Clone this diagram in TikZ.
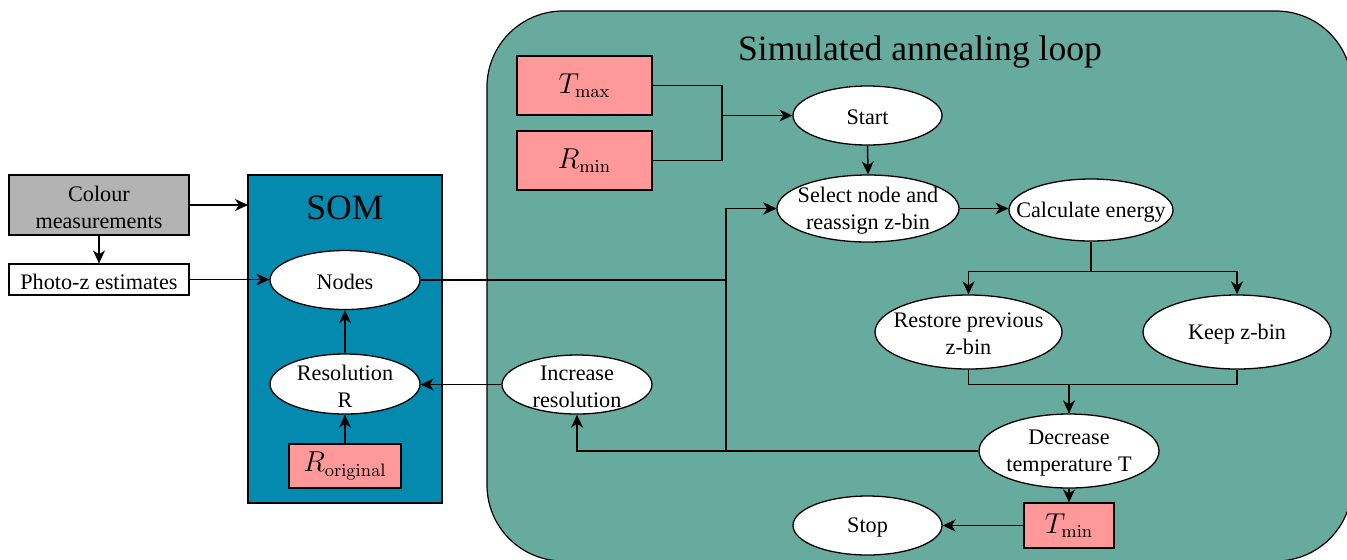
\documentclass[tikz,border=0pt]{standalone}
\usepackage[no-math]{fontspec}
\setmainfont{Liberation Serif}
\usetikzlibrary{shapes.geometric,arrows.meta}
\definecolor{loopfill}{HTML}{67AB9F}
\definecolor{somfill}{RGB}{4,138,174}
\definecolor{paramfill}{HTML}{FF9999}
\definecolor{inputfill}{HTML}{B3B3B3}

\begin{document}
\begin{tikzpicture}[x=0.5pt,y=-0.5pt,
  font=\fontsize{11.1}{13.4}\selectfont,
  every node/.style={inner sep=0pt},
  ell/.style={ellipse, draw, fill=white, line width=0.65pt},
  lbl/.style={align=center, draw=none, fill=none, yshift=-1pt},
  param/.style={rectangle, draw, fill=paramfill, line width=0.6pt,
    font=\fontsize{13.4}{16}\selectfont},
  inbox/.style={rectangle, draw, line width=0.6pt},
  arr/.style={line width=0.75pt, -{Stealth[length=6.5pt,width=6pt,inset=2pt]}},
  link/.style={line width=0.75pt},
  heading/.style={font=\fontsize{17.8}{21}\selectfont}]

\useasboundingbox (0,0) rectangle (1347,559);

% background panels
\draw[fill=loopfill, line width=0.6pt, rounded corners=38pt] (487,11) rectangle (1352,561);
\node[heading] (looptitle) at (920,52) {Simulated annealing loop};

\draw[fill=somfill, line width=0.6pt] (248,175) rectangle (442,503);
\coordinate (somwest) at (248,339);
\node[heading] (somtitle) at (345,207.5) {SOM};

% input boxes
\node[inbox, fill=inputfill, minimum width=90pt, minimum height=30pt] (colour) at (99,205) {};
\node[lbl] (colourtext) at (colour.center) {Colour\\measurements};
\node[inbox, fill=white, minimum width=90pt, minimum height=15.5pt] (photo) at (99,279.5) {};
\node[lbl] (phototext) at (photo.center) {Photo-z estimates};

% SOM contents
\node[ell, minimum width=75pt, minimum height=29.5pt, label={[lbl]center:Nodes}] (nodes) at (345,280) {};
\node[ell, minimum width=75pt, minimum height=30pt, label={[lbl]center:{Resolution\\R}}] (res) at (345,384) {};
\node[param, minimum width=56pt, minimum height=22pt] (rorig) at (345,466) {$R_{\mathrm{original}}$};

% annealing loop contents
\node[param, minimum width=67.5pt, minimum height=29.5pt] (tmax) at (584.5,85.5) {$T_{\max}$};
\node[param, minimum width=67.5pt, minimum height=29.5pt] (rmin) at (584.5,160.5) {$R_{\min}$};
\node[ell, minimum width=74.5pt, minimum height=29.5pt, label={[lbl]center:Start}] (start) at (867.5,115.5) {};
\node[ell, minimum width=91pt, minimum height=33.5pt, label={[lbl]center:{Select node and\\reassign z-bin}}] (select) at (868,208.5) {};
\node[ell, minimum width=82pt, minimum height=31pt, label={[lbl]center:Calculate energy}] (calc) at (1091,210) {};
\node[ell, minimum width=93.5pt, minimum height=37pt, label={[lbl]center:{Restore previous\\z-bin}}] (restore) at (968.5,332) {};
\node[ell, minimum width=94pt, minimum height=37pt, label={[lbl]center:Keep z-bin}] (keep) at (1237,332) {};
\node[ell, minimum width=90pt, minimum height=37pt, label={[lbl]center:{Decrease\\temperature T}}] (dec) at (1069,451) {};
\node[param, minimum width=45pt, minimum height=22.5pt] (tmin) at (1069,525.5) {$T_{\min}$};
\node[ell, minimum width=74.5pt, minimum height=29.5pt, label={[lbl]center:Stop}] (stop) at (867.5,525.5) {};
\node[ell, minimum width=75pt, minimum height=29.5pt, label={[lbl]center:{Increase\\resolution}}] (incr) at (577,384.5) {};

% routing columns
\coordinate (jx) at (726,0);
\coordinate (jy) at (722,0);

% connectors
\draw[arr] (colour.south) -- (photo.north);
\draw[arr] (colour.east) -- (colour.east -| somwest);
\draw[arr] (photo.east) -- (photo.east -| nodes.west);
\draw[arr] (rorig.north) -- (res.south);
\draw[arr] (res.north) -- (nodes.south);
\draw[arr] (incr.west) -- (incr.west -| res.east);

\draw[link] (tmax.east) -- (tmax.east -| jy) |- (start.west);
\draw[link] (rmin.east) -- (rmin.east -| jy) |- (start.west);
\draw[arr] (start.west -| jy) -- (start.west);
\draw[arr] (start.south) -- (select.north);
\draw[arr] (select.east) -- (select.east -| calc.west);

\draw[arr] (calc.south) -- ++(0,30) -| (restore.north);
\draw[arr] (calc.south) -- ++(0,30) -| (keep.north);
\draw[link] (restore.south) -- ++(0,15) -| (dec.north);
\draw[link] (keep.south) -- ++(0,15) -| (dec.north);
\draw[arr] (dec.north |- 0,384) -- (dec.north);

\draw[arr] (nodes.east) -- (nodes.east -| jx) |- (select.west);
\draw[arr] (dec.west) -- (dec.west -| jx) |- (select.west);
\draw[arr] (dec.west) -| (incr.south);

\draw[arr] (dec.south) -- (tmin.north);
\draw[arr] (tmin.west) -- (stop.east);
\end{tikzpicture}
\end{document}
